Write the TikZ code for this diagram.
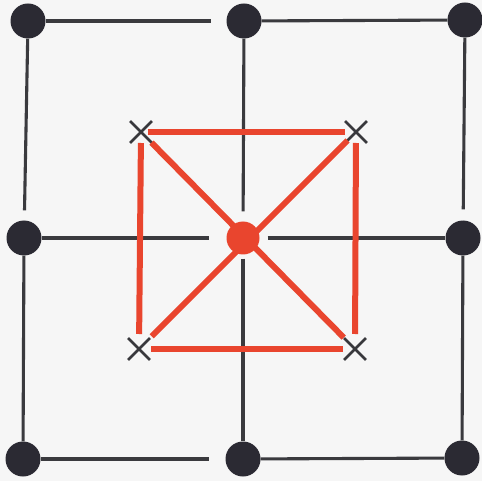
\documentclass[tikz,border=0pt]{standalone}
\usetikzlibrary{shapes.misc}
\definecolor{bgc}{HTML}{F6F6F6}
\definecolor{dotc}{HTML}{2B2A33}
\definecolor{linec}{HTML}{3A3A3E}
\definecolor{redc}{HTML}{E9452E}
\definecolor{xc}{HTML}{38383C}
\begin{document}
\begin{tikzpicture}[x=1pt,y=-1pt,
  dot/.style={circle, fill=dotc, minimum size=35pt, inner sep=0pt},
  cdot/.style={circle, fill=redc, minimum size=33pt, inner sep=0pt},
  xm/.style={cross out, draw=xc, line width=2.8pt, minimum size=19pt, inner sep=0pt},
  gridl/.style={draw=linec, line width=3.1pt},
  redl/.style={draw=redc, line width=6pt}]
\fill[bgc] (0,0) rectangle (482,481);
\useasboundingbox (0,0) rectangle (482,481);
% dots
\node[dot] (tl) at (28,21) {};
\node[dot] (tm) at (244,21) {};
\node[dot] (tr) at (465,20) {};
\node[dot] (ml) at (24,238) {};
\node[cdot] (c) at (243,238) {};
\node[dot] (mr) at (463,238) {};
\node[dot] (bl) at (23,459) {};
\node[dot] (bm) at (243,459) {};
\node[dot] (br) at (462,458) {};
% crosses
\node[xm] (x1) at (141,132) {};
\node[xm] (x2) at (356,132) {};
\node[xm] (x3) at (139,349) {};
\node[xm] (x4) at (355,349) {};
% grid
\draw[gridl, shorten >=15pt] (tl) -- (tm);
\draw[gridl] (tm) -- (tr);
\draw[gridl, shorten >=10pt] (tl) -- (ml);
\draw[gridl, shorten >=10pt] (tm) -- (c);
\draw[gridl, shorten >=11pt] (tr) -- (mr);
\draw[gridl, shorten >=17pt] (ml) -- (c);
\draw[gridl, shorten <=8pt] (c) -- (mr);
\draw[gridl] (ml) -- (bl);
\draw[gridl, shorten <=4pt] (c) -- (bm);
\draw[gridl] (mr) -- (br);
\draw[gridl, shorten >=16pt] (bl) -- (bm);
\draw[gridl] (bm) -- (br);
% red square
\draw[redl, shorten <=7pt, shorten >=11pt] (x1.center) -- (x2.center);
\draw[redl, shorten <=11pt, shorten >=15pt] (x1.center) -- (x3.center);
\draw[redl, shorten <=11pt, shorten >=15pt] (x2.center) -- (x4.center);
\draw[redl, shorten <=12pt, shorten >=12pt] (x3.center) -- (x4.center);
\draw[redl, shorten <=15pt, shorten >=16pt] (x1.center) -- (x4.center);
\draw[redl, shorten <=12pt, shorten >=18pt] (x2.center) -- (x3.center);
\end{tikzpicture}
\end{document}
